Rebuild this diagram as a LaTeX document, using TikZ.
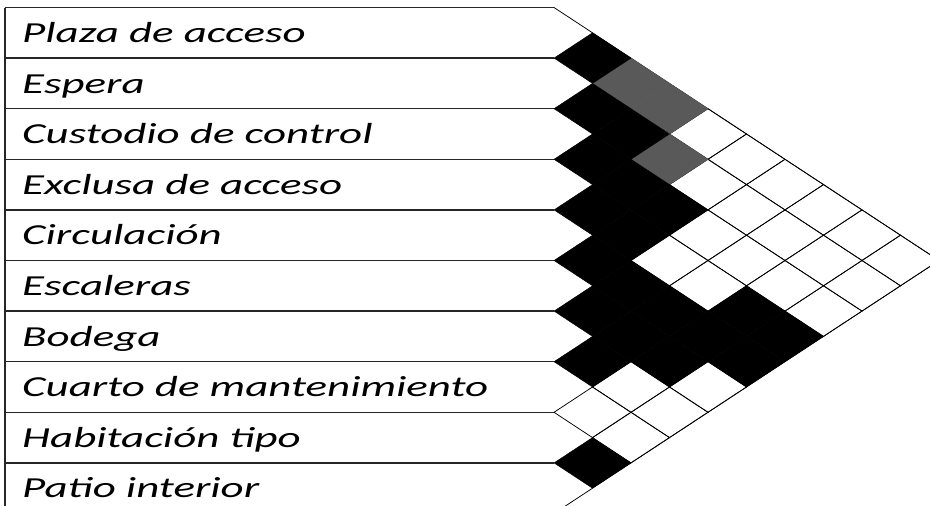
\documentclass[tikz,border=0pt]{standalone}
\usepackage{fontspec}
\setmainfont{Carlito}[FakeStretch=1.55]

\begin{document}
\begin{tikzpicture}[x=1pt,y=-1pt,
  rowline/.style={line width=1.3pt,black!85},
  cellline/.style={line width=0.75pt},
  roomtext/.style={anchor=base west,inner sep=0pt,font=\fontsize{29}{35}\selectfont\itshape}]
\useasboundingbox (0,0) rectangle (930,506);
\clip (0,0) rectangle (930,506);
\draw[rowline] (5,7.5) -- (5,506);
\foreach \k in {0,...,9}{\draw[rowline] (5,7.5+50.6*\k) -- (554,7.5+50.6*\k);}
\foreach \k/\s in {0/Plaza de acceso,1/Espera,2/Custodio de control,3/Exclusa de acceso,4/Circulación,
  5/Escaleras,6/Bodega,7/Cuarto de mantenimiento,8/Habitación tipo,9/Patio interior}{
  \node[roomtext] (room\k) at (22,42.5+50.6*\k) {\s};
}
\begin{scope}[shift={(554,7.5)},x={(38.5pt,-25.3pt)},y={(38.5pt,25.3pt)}]
\draw[cellline] (0,0) -- (10,0) -- (10,-10);
\foreach \i/\j in {7/8,6/8,7/9,3/6,6/9,0/4,1/5,2/6,3/7,5/9,0/5,1/6,2/7,0/6,1/7,2/8,0/7,1/8,2/9,0/8,1/9,0/9}{
  \draw[cellline] (\j,-\i-1) -- ++(1,0) -- ++(0,1) -- ++(-1,0) -- cycle;
}
\foreach \i/\j in {0/2,0/3,1/4}{\filldraw[black!65,line width=0.4pt] (\j,-\i-1) -- ++(1,0) -- ++(0,1) -- ++(-1,0) -- cycle;}
\foreach \i/\j in {0/1,1/2,2/3,3/4,4/5,5/6,6/7,8/9,1/3,2/4,3/5,4/6,5/7,2/5,4/7,5/8,4/8,3/8,4/9,3/9}{
  \filldraw[line width=0.4pt] (\j,-\i-1) -- ++(1,0) -- ++(0,1) -- ++(-1,0) -- cycle;
}
\end{scope}
\end{tikzpicture}
\end{document}
